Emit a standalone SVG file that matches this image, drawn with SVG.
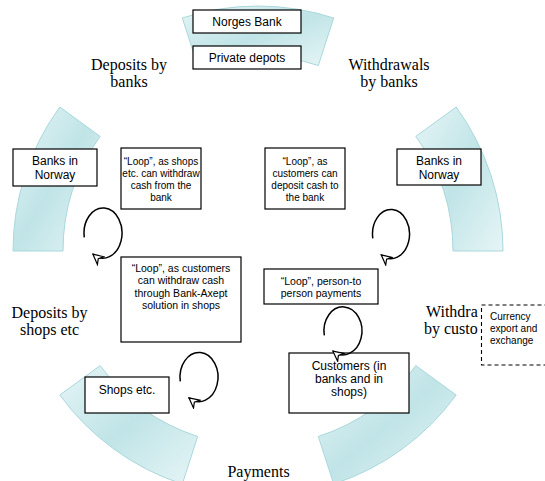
<svg xmlns="http://www.w3.org/2000/svg" width="545" height="481" viewBox="0 0 545 481">
<defs>
<linearGradient id="seg" x1="0" y1="0" x2="1" y2="1">
<stop offset="0" stop-color="#e6f5f6"/>
<stop offset="0.5" stop-color="#c0e4e7"/>
<stop offset="1" stop-color="#e6f5f6"/>
</linearGradient>
<marker id="ah" viewBox="0 0 12 12" refX="11" refY="6" markerWidth="12" markerHeight="12" markerUnits="userSpaceOnUse" orient="auto">
<path d="M1,1 L11,6 L1,11 L4,6 Z" fill="#fff" stroke="#000" stroke-width="1.2" stroke-linejoin="miter"/>
</marker>
<style>
.seg{fill:url(#seg);stroke:#a9d8dc;stroke-width:1}
.lbl{font-family:"Liberation Serif","Times New Roman",serif;font-size:16px;fill:#000;text-anchor:middle}
.box{fill:#fff;stroke:#000;stroke-width:1.2}
.dbox{fill:#fff;stroke:#000;stroke-width:1.1;stroke-dasharray:4,3}
.t{font-family:"Liberation Sans",Arial,sans-serif;fill:#000;text-anchor:middle}
.st{text-anchor:start}
.s10{font-size:10px}
.s105{font-size:10.5px}
.s12{font-size:12px}
.loop{fill:none;stroke:#000;stroke-width:1.5;marker-end:url(#ah)}
</style>
</defs>
<rect width="545" height="481" fill="#fff"/>
<g id="segments">
<path class="seg" d="M333.7,18 A245,245 0 0 0 182.3,18 L197.7,65.5 A195,195 0 0 1 318.3,65.5 Z"/>
<path class="seg" d="M503,251 A245,245 0 0 0 456.2,107 L415.8,136.4 A195,195 0 0 1 453,251 Z"/>
<path class="seg" d="M59.8,107 A245,245 0 0 0 13,251 L63,251 A195,195 0 0 1 100.2,136.4 Z"/>
<path class="seg" d="M59.8,395 A245,245 0 0 0 182.3,484 L197.7,436.5 A195,195 0 0 1 100.2,365.6 Z"/>
<path class="seg" d="M333.7,484 A245,245 0 0 0 456.2,395 L415.8,365.6 A195,195 0 0 1 318.3,436.5 Z"/>
</g>
<g id="label-deposits-banks"><text class="lbl" x="129" y="70">Deposits by</text><text class="lbl" x="129" y="87">banks</text></g>
<g id="label-withdrawals-banks"><text class="lbl" x="389" y="70">Withdrawals</text><text class="lbl" x="389" y="87">by banks</text></g>
<g id="label-withdrawals-customers"><text class="lbl st" x="426" y="317" style="text-anchor:start">Withdra</text><text class="lbl st" x="424" y="334" style="text-anchor:start">by custo</text></g>
<g id="label-deposits-shops"><text class="lbl" x="49.5" y="318">Deposits by</text><text class="lbl" x="49.5" y="335">shops etc</text></g>
<g id="label-payments"><text class="lbl" x="258.5" y="477">Payments</text></g>
<g id="norges-bank"><rect class="box" x="193" y="10" width="108" height="23"/><text class="t s12" x="247" y="26">Norges Bank</text></g>
<g id="private-depots"><rect class="box" x="193" y="46" width="108" height="23"/><text class="t s12" x="247" y="61.5">Private depots</text></g>
<g id="banks-norway-left"><rect class="box" x="13" y="149" width="84" height="37"/><text class="t s12" x="55" y="165">Banks in</text><text class="t s12" x="55" y="179">Norway</text></g>
<g id="banks-norway-right"><rect class="box" x="397" y="149" width="84" height="36"/><text class="t s12" x="439" y="165">Banks in</text><text class="t s12" x="439" y="179">Norway</text></g>
<g id="loop-shops-withdraw"><rect class="box" x="121" y="148" width="80" height="61"/><text class="t s10" x="161" y="165">“Loop”, as shops</text><text class="t s10" x="161" y="177">etc. can withdraw</text><text class="t s10" x="161" y="189">cash from the</text><text class="t s10" x="161" y="201">bank</text></g>
<g id="loop-customers-deposit"><rect class="box" x="265" y="148" width="80" height="61"/><text class="t s10" x="305" y="165">“Loop”, as</text><text class="t s10" x="305" y="177">customers can</text><text class="t s10" x="305" y="189">deposit cash to</text><text class="t s10" x="305" y="201">the bank</text></g>
<g id="loop-bankaxept"><rect class="box" x="121" y="257" width="120" height="85"/><text class="t s105" x="181" y="271.5">“Loop”, as customers</text><text class="t s105" x="181" y="284">can withdraw cash</text><text class="t s105" x="181" y="296.5">through Bank-Axept</text><text class="t s105" x="181" y="309">solution in shops</text></g>
<g id="loop-p2p"><rect class="box" x="264" y="269" width="114" height="35"/><text class="t s105" x="321" y="285">“Loop”, person-to</text><text class="t s105" x="321" y="297">person payments</text></g>
<g id="currency"><rect class="dbox" x="481.5" y="305" width="80" height="60"/><text class="t s10 st" x="490" y="320" style="text-anchor:start">Currency</text><text class="t s10 st" x="490" y="332" style="text-anchor:start">export and</text><text class="t s10 st" x="490" y="344" style="text-anchor:start">exchange</text></g>
<g id="shops"><rect class="box" x="85" y="377" width="84" height="36"/><text class="t s12" x="127" y="394">Shops etc.</text></g>
<g id="customers"><rect class="box" x="289" y="353" width="120" height="60"/><text class="t s12" x="349" y="370">Customers (in</text><text class="t s12" x="349" y="383">banks and in</text><text class="t s12" x="349" y="396">shops)</text></g>
<g id="connectors">
<path class="loop" d="M84.3,237.3 A19,25 0 1 1 92.9,254.2"/>
<path class="loop" d="M372.8,238.3 A18.5,24.5 0 1 1 381.2,254.8"/>
<path class="loop" d="M180.3,381.3 A19,24.5 0 1 1 188.9,397.8"/>
<path class="loop" d="M324.3,335.3 A19,24 0 1 1 332.9,351.2"/>
</g>
</svg>
